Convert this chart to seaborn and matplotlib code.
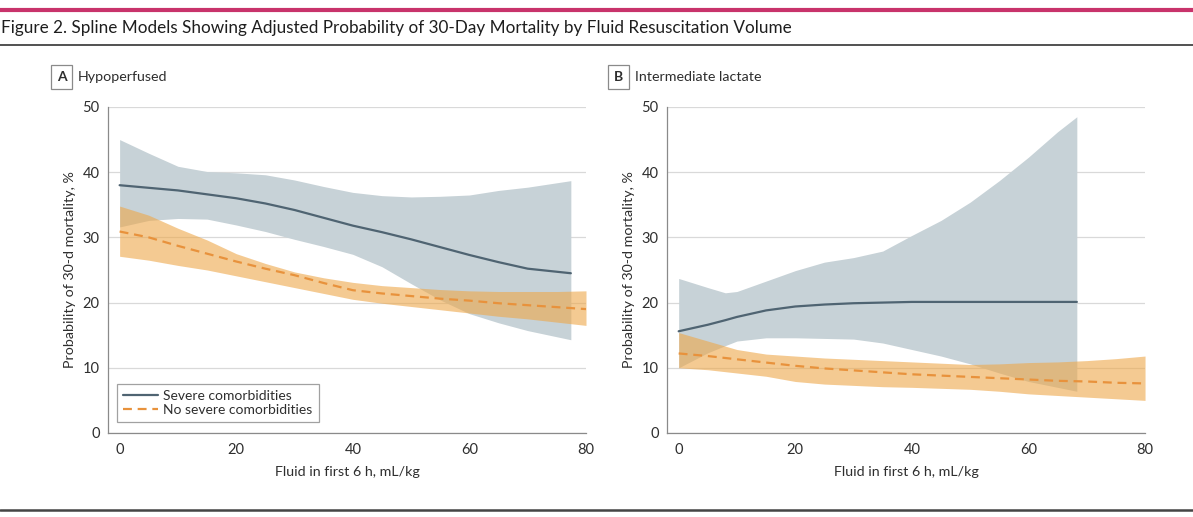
import matplotlib
matplotlib.use("Agg")
import matplotlib.pyplot as plt
from matplotlib.lines import Line2D
import numpy as np
import pandas as pd
import seaborn as sns

# panel A - hypoperfused
A_SEV_X = [0, 5, 10, 15, 20, 25, 30, 35, 40, 45, 50, 55, 60, 65, 70, 77.4]
A_SEV_Y = [38.0, 37.6, 37.2, 36.6, 36.0, 35.2, 34.2, 33.0, 31.8, 30.8, 29.7, 28.5, 27.3, 26.2, 25.2, 24.5]
A_SEV_LO = [31.6, 32.6, 32.9, 32.8, 31.9, 30.9, 29.7, 28.6, 27.4, 25.5, 22.9, 20.4, 18.3, 16.9, 15.7, 14.3]
A_SEV_HI = [45.0, 42.9, 40.9, 40.1, 39.9, 39.6, 38.8, 37.8, 36.9, 36.4, 36.2, 36.3, 36.5, 37.2, 37.7, 38.7]

A_NO_X = [0, 5, 10, 15, 20, 25, 30, 35, 40, 45, 50, 55, 60, 65, 70, 75, 80]
A_NO_Y = [30.9, 30.0, 28.7, 27.5, 26.3, 25.2, 24.2, 23.0, 21.9, 21.4, 21.0, 20.6, 20.3, 19.9, 19.6, 19.3, 19.0]
A_NO_LO = [27.1, 26.5, 25.7, 25.0, 24.1, 23.2, 22.3, 21.4, 20.5, 19.9, 19.4, 18.9, 18.4, 17.9, 17.5, 17.0, 16.5]
A_NO_HI = [34.8, 33.4, 31.4, 29.6, 27.5, 26.0, 24.7, 23.8, 23.1, 22.6, 22.3, 22.0, 21.8, 21.7, 21.7, 21.7, 21.8]

# panel B - intermediate lactate
B_SEV_X = [0, 5, 8, 10, 15, 20, 25, 30, 35, 40, 45, 50, 55, 60, 65, 68.3]
B_SEV_Y = [15.6, 16.6, 17.3, 17.8, 18.8, 19.4, 19.7, 19.9, 20.0, 20.1, 20.1, 20.1, 20.1, 20.1, 20.1, 20.1]
B_SEV_LO = [10.0, 12.3, 13.4, 14.1, 14.6, 14.6, 14.5, 14.4, 13.8, 12.8, 11.8, 10.6, 9.2, 7.9, 7.0, 6.4]
B_SEV_HI = [23.7, 22.3, 21.5, 21.7, 23.3, 24.9, 26.2, 26.9, 27.9, 30.3, 32.6, 35.4, 38.7, 42.3, 46.2, 48.5]

B_NO_X = [0, 5, 10, 15, 20, 25, 30, 35, 40, 45, 50, 55, 60, 65, 70, 75, 80]
B_NO_Y = [12.2, 11.8, 11.3, 10.8, 10.3, 9.9, 9.6, 9.3, 9.0, 8.8, 8.6, 8.4, 8.2, 8.0, 7.9, 7.7, 7.6]
B_NO_LO = [10.0, 9.7, 9.2, 8.7, 7.9, 7.5, 7.3, 7.1, 7.0, 6.85, 6.7, 6.4, 6.0, 5.75, 5.5, 5.25, 5.0]
B_NO_HI = [15.4, 14.1, 12.8, 12.1, 11.8, 11.5, 11.3, 11.1, 10.9, 10.7, 10.5, 10.6, 10.8, 10.9, 11.1, 11.4, 11.8]

GROUPS = ["Severe comorbidities", "No severe comorbidities"]
PANEL_TAGS = ["A", "B"]
PANEL_NAMES = ["Hypoperfused", "Intermediate lactate"]
TITLE = "Figure 2. Spline Models Showing Adjusted Probability of 30-Day Mortality by Fluid Resuscitation Volume"
XLABEL = "Fluid in first 6 h, mL/kg"
YLABEL = "Probability of 30-d mortality, %"

GRAY_LINE = "#4f6472"
GRAY_BAND = "#c7d2d7"
ORANGE_LINE = "#e8923c"
ORANGE_BAND = "#eea749"
TXT = "#2e2e2e"

sns.set_theme(style="white")
plt.rcParams["font.family"] = ["Lato", "DejaVu Sans"]


def draw_panel(ax, sev, no):
    """Bands from fill_between, lines through seaborn."""
    ax.fill_between(sev[0], sev[2], sev[3], color=GRAY_BAND, lw=0, zorder=1)
    ax.fill_between(no[0], no[2], no[3], color=ORANGE_BAND, alpha=0.6, lw=0, zorder=2)
    df = pd.concat([
        pd.DataFrame({"x": sev[0], "y": sev[1], "group": GROUPS[0]}),
        pd.DataFrame({"x": no[0], "y": no[1], "group": GROUPS[1]}),
    ])
    sns.lineplot(data=df, x="x", y="y", hue="group", style="group",
                 palette={GROUPS[0]: GRAY_LINE, GROUPS[1]: ORANGE_LINE},
                 dashes={GROUPS[0]: "", GROUPS[1]: (4, 2.6)},
                 linewidth=1.6, legend=False, ax=ax, zorder=3)
    ax.set_xlim(-2, 80)
    ax.set_ylim(0, 50)
    ax.set_xticks([0, 20, 40, 60, 80])
    ax.set_yticks([0, 10, 20, 30, 40, 50])
    ax.yaxis.grid(True, color="#d9d9d9", lw=0.9)
    ax.set_axisbelow(True)
    for s in ["top", "right"]:
        ax.spines[s].set_visible(False)
    for s in ["left", "bottom"]:
        ax.spines[s].set_color("#8a8a8a")
        ax.spines[s].set_linewidth(0.9)
    ax.tick_params(axis="both", direction="out", length=4, width=0.9,
                   color="#8a8a8a", labelcolor=TXT, labelsize=10.5, pad=2)
    ax.tick_params(axis="x", pad=3)
    ax.set_xlabel(XLABEL, fontsize=10.3, color=TXT, labelpad=7)
    ax.set_ylabel(YLABEL, fontsize=10.3, color=TXT, labelpad=5)


fig = plt.figure(figsize=(11.93, 5.17), dpi=100)
fig.patch.set_facecolor("white")
axA = fig.add_axes([0.0905, 0.1625, 0.4007, 0.6306])
axB = fig.add_axes([0.5591, 0.1625, 0.4007, 0.6306])

draw_panel(axA, (A_SEV_X, A_SEV_Y, A_SEV_LO, A_SEV_HI), (A_NO_X, A_NO_Y, A_NO_LO, A_NO_HI))
draw_panel(axB, (B_SEV_X, B_SEV_Y, B_SEV_LO, B_SEV_HI), (B_NO_X, B_NO_Y, B_NO_LO, B_NO_HI))

handles = [Line2D([], [], color=GRAY_LINE, lw=1.6),
           Line2D([], [], color=ORANGE_LINE, lw=1.6, dashes=(4, 2.6))]
leg = axA.legend(handles, GROUPS, loc="lower left", bbox_to_anchor=(0.018, 0.033),
                 fontsize=10, frameon=True, fancybox=False, handlelength=2.5,
                 handletextpad=0.4, borderpad=0.45, labelspacing=0.15,
                 borderaxespad=0.0)
leg.get_frame().set_edgecolor("#8a8a8a")
leg.get_frame().set_linewidth(0.9)
for t in leg.get_texts():
    t.set_color(TXT)

# panel tags
for x_tag, tag, name in zip([0.0515, 0.5185], PANEL_TAGS, PANEL_NAMES):
    fig.text(x_tag, 0.851, tag, fontsize=10, fontweight="bold", color=TXT,
             va="center", ha="center",
             bbox=dict(boxstyle="square,pad=0.42", fc="white", ec="#8a8a8a", lw=0.9))
    fig.text(x_tag + 0.0135, 0.851, name, fontsize=10.3, color=TXT, va="center", ha="left")

# header and rules
fig.text(0.001, 0.945, TITLE, fontsize=12.3, color="#1e1e1e", va="center", ha="left")
fig.add_artist(Line2D([0, 1], [0.980, 0.980], color="#c8336b", lw=3))
fig.add_artist(Line2D([0, 1], [0.913, 0.913], color="#333333", lw=1.2))
fig.add_artist(Line2D([0, 1], [0.014, 0.014], color="#444444", lw=1.8))

fig.savefig("out.png", dpi=100, facecolor="white")
